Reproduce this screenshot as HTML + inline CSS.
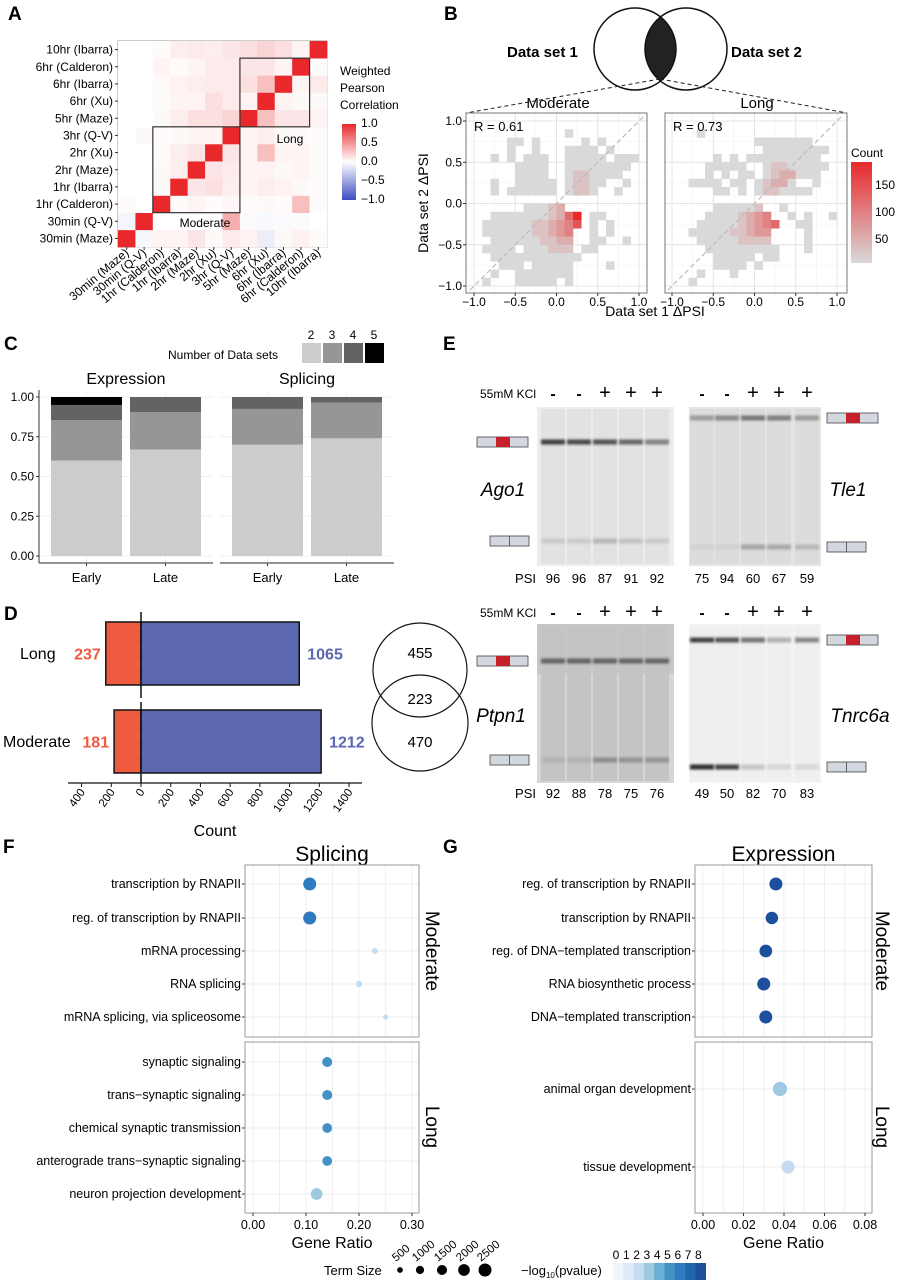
<!DOCTYPE html>
<html><head><meta charset="utf-8">
<style>
html,body{margin:0;padding:0;background:#fff;}
svg{display:block;font-family:"Liberation Sans",sans-serif;}
.pl{font-weight:bold;font-size:19px;}
.narrow{font-family:"Liberation Sans Narrow","Liberation Sans",sans-serif;}
</style></head>
<body>
<svg id="fig" width="897" height="1280" viewBox="0 0 897 1280" xmlns="http://www.w3.org/2000/svg">
<defs>
<filter id="blur" x="-20%" y="-200%" width="140%" height="500%"><feGaussianBlur stdDeviation="1.2"/></filter>
<linearGradient id="corrGrad" x1="0" y1="0" x2="0" y2="1">
<stop offset="0" stop-color="#e8282b"/><stop offset="0.5" stop-color="#ffffff"/><stop offset="1" stop-color="#3b4cc0"/></linearGradient>
<linearGradient id="countGrad" x1="0" y1="0" x2="0" y2="1">
<stop offset="0" stop-color="#e8282b"/><stop offset="1" stop-color="#d9d9d9"/></linearGradient>
<clipPath id="clipL"><circle cx="635" cy="49" r="41"/></clipPath>
</defs>
<text class="pl" x="8" y="20">A</text>
<text class="pl" x="444" y="20">B</text>
<text class="pl" x="4" y="350">C</text>
<text class="pl" x="443" y="350">E</text>
<text class="pl" x="4" y="620">D</text>
<text class="pl" x="3" y="853">F</text>
<text class="pl" x="443" y="853">G</text>

<g id="panelA"></g>
<g font-size="12">
<text x="340" y="75">Weighted</text><text x="340" y="92">Pearson</text><text x="340" y="109">Correlation</text>
<rect x="342" y="124" width="14" height="76" fill="url(#corrGrad)"/>
<text x="361" y="127">1.0</text><text x="361" y="146">0.5</text><text x="361" y="165">0.0</text><text x="361" y="184">−0.5</text><text x="361" y="203">−1.0</text>
</g>

<g>
<circle cx="686" cy="49" r="41" fill="#222" clip-path="url(#clipL)"/>
<circle cx="635" cy="49" r="41" fill="none" stroke="#111" stroke-width="1.5"/>
<circle cx="686" cy="49" r="41" fill="none" stroke="#111" stroke-width="1.5"/>
<text x="507" y="57" font-weight="bold" font-size="15">Data set 1</text>
<text x="731" y="57" font-weight="bold" font-size="15">Data set 2</text>
<line x1="660" y1="79" x2="466" y2="113" stroke="#222" stroke-dasharray="4,3"/>
<line x1="660" y1="79" x2="847" y2="113" stroke="#222" stroke-dasharray="4,3"/>
<text x="558" y="108" text-anchor="middle" font-size="15">Moderate</text>
<text x="757" y="108" text-anchor="middle" font-size="15">Long</text>
</g>
<g id="panelB"></g>
<g font-size="12">
<text x="851" y="157">Count</text>
<rect x="851" y="162" width="21" height="101" fill="url(#countGrad)"/>
<text x="875" y="189">150</text><text x="875" y="216">100</text><text x="875" y="243">50</text>
</g>
<text x="655" y="316" text-anchor="middle" font-size="14">Data set 1 ΔPSI</text>
<text transform="translate(428,203) rotate(-90)" text-anchor="middle" font-size="14">Data set 2 ΔPSI</text>

<g id="panelC"></g>
<g id="panelD"></g>
<g font-size="15">
<circle cx="420" cy="670" r="47" fill="none" stroke="#111" stroke-width="1.2"/>
<circle cx="420" cy="723" r="48" fill="none" stroke="#111" stroke-width="1.2"/>
<text x="420" y="658" text-anchor="middle">455</text>
<text x="420" y="704" text-anchor="middle">223</text>
<text x="420" y="747" text-anchor="middle">470</text>
</g>

<g id="panelE"></g>
<g id="panelF"></g>
<g id="panelG"></g>
<g id="legendFG"></g>
</svg>
<script>
// ---------- Panel A data ----------
const hmLabels = ["30min (Maze)","30min (Q-V)","1hr (Calderon)","1hr (Ibarra)","2hr (Maze)","2hr (Xu)","3hr (Q-V)","5hr (Maze)","6hr (Xu)","6hr (Ibarra)","6hr (Calderon)","10hr (Ibarra)"];
const hmRow0 = [1,-0.04,0.05,0.05,0.12,0.03,0.1,0.06,-0.1,0.03,0.07,0.02];
const hmRow1 = [-0.05,1,0,0,0,0,0.38,-0.02,-0.03,-0.02,-0.02,0];
const hmRow2 = [0.02,0,1,0.02,0.05,0.02,0.04,0.02,0.03,0.02,0.3,0.02];
const hmRow3 = [0,0,0.03,1,0.12,0.15,0.08,0.05,0.08,0.06,0.03,0.02];
const hmRow4 = [0,0,0.03,0.08,1,0.12,0.1,0.05,0.06,0.03,0.05,0.02];
const hmRow5 = [0,0,0.02,0.08,0.12,1,0.12,0.05,0.3,0.05,0.05,0.02];
const hmRow6 = [0,0.03,0.02,0.03,0.05,0.05,1,0.05,0.08,0.03,0.03,0.02];
const hmRow7 = [0,0,0.03,0.08,0.15,0.15,0.2,1,0.3,0.12,0.12,0.05];
const hmRow8 = [0,0,0.02,0.05,0.05,0.15,0.1,0.06,1,0.06,0.03,0.03];
const hmRow9 = [0,0,0.02,0.06,0.08,0.1,0.1,0.15,0.3,1,0.05,0.1];
const hmRow10 = [0,0,0.05,0.02,0.05,0.1,0.1,0.12,0.12,0.05,1,0.02];
const hmRow11 = [0,0,0.02,0.08,0.1,0.08,0.12,0.15,0.2,0.15,0.05,1];
const hmValues = [hmRow0,hmRow1,hmRow2,hmRow3,hmRow4,hmRow5,hmRow6,hmRow7,hmRow8,hmRow9,hmRow10,hmRow11];

// ---------- Panel B data (density grids, 0.1 bins, top row y=1.0; digits = count level) ----------
const gridModerate = [
"....................",
"...........1........",
"....11.1.....1.1....",
"....1..1...1111.1...",
"..1.1.111..11111.111",
".....1111..11111111.",
".....1111..1221111..",
"..1..11111.12211..1.",
"..1.111111.1221..1..",
"....................",
"......11123.........",
"..11111112369.11....",
".111111223457.1.1...",
".11111122345..1.1...",
"..1111112233..11..1.",
".1111.111222.11.....",
"..11111111111.......",
"...111.11111....1...",
"..1..1111111........",
".1...11111.1........"];
const gridLong = [
"....................",
"...1................",
"..........1111111...",
"...........11111111.",
".....1.1.111111111..",
"....11111..12211111.",
"....1.1.11.1233111..",
"..1111.11.12331..1..",
".....11.1.1221111...",
"....................",
".....111112..1......",
"....11112345..1.1..1",
"...1111123456..11...",
"..1111122344....1...",
"...111112222....1...",
"....111111111...1...",
".....11111.11.......",
".....1111.1.........",
"...1...1............",
"..1................."];
const bTicks = [-1,-0.5,0,0.5,1];
const bTickLabels = ["−1.0","−0.5","0.0","0.5","1.0"];
const bR = ["R = 0.61","R = 0.73"];

// ---------- Panel C data ----------
const cFacets = ["Expression","Splicing"];
const cCats = ["Early","Late"];
const cExpr2 = [0.60,0.67], cExpr3 = [0.255,0.235], cExpr4 = [0.095,0.095], cExpr5 = [0.05,0];
const cSpl2 = [0.70,0.74], cSpl3 = [0.225,0.225], cSpl4 = [0.075,0.035], cSpl5 = [0,0];
const cTicks = [0,0.25,0.5,0.75,1];
const cTickLabels = ["0.00","0.25","0.50","0.75","1.00"];

// ---------- Panel D data ----------
const dCats = ["Long","Moderate"];
const dUp = [237,181];
const dDown = [1065,1212];
const dTicks = [-400,-200,0,200,400,600,800,1000,1200,1400];
const dTickLabels = ["400","200","0","200","400","600","800","1000","1200","1400"];

// ---------- Panel E data ----------
const eGenes = ["Ago1","Tle1","Ptpn1","Tnrc6a"];
const eKCl = ["-","-","+","+","+"];
const ePsiAgo1 = [96,96,87,91,92];
const ePsiTle1 = [75,94,60,67,59];
const ePsiPtpn1 = [92,88,78,75,76];
const ePsiTnrc6a = [49,50,82,70,83];
const eIncAgo1 = [0.85,0.8,0.75,0.65,0.5];
const eSkipAgo1 = [0.12,0.12,0.22,0.16,0.12];
const eIncTle1 = [0.35,0.45,0.55,0.5,0.35];
const eSkipTle1 = [0.05,0.05,0.3,0.28,0.2];
const eIncPtpn1 = [0.6,0.6,0.6,0.6,0.6];
const eSkipPtpn1 = [0.1,0.12,0.35,0.3,0.3];
const eIncTnrc6a = [0.85,0.75,0.6,0.3,0.5];
const eSkipTnrc6a = [0.95,0.85,0.2,0.12,0.12];

// ---------- Panel F/G data ----------
const fTermsMod = ["transcription by RNAPII","reg. of transcription by RNAPII","mRNA processing","RNA splicing","mRNA splicing, via spliceosome"];
const fRatioMod = [0.107,0.107,0.23,0.2,0.25];
const fSizeMod = [2500,2500,500,600,400];
const fPvalMod = [5.6,5.6,2.2,2.1,2.0];
const fTermsLong = ["synaptic signaling","trans−synaptic signaling","chemical synaptic transmission","anterograde trans−synaptic signaling","neuron projection development"];
const fRatioLong = [0.14,0.14,0.14,0.14,0.12];
const fSizeLong = [1500,1500,1400,1400,2000];
const fPvalLong = [5.2,4.7,4.6,4.6,3.0];
const gTermsMod = ["reg. of transcription by RNAPII","transcription by RNAPII","reg. of DNA−templated transcription","RNA biosynthetic process","DNA−templated transcription"];
const gRatioMod = [0.036,0.034,0.031,0.030,0.031];
const gSizeMod = [2500,2300,2400,2500,2500];
const gPvalMod = [7.6,7.6,8,8,8];
const gTermsLong = ["animal organ development","tissue development"];
const gRatioLong = [0.038,0.042];
const gSizeLong = [3000,2600];
const gPvalLong = [2.6,1.9];
const fTicks = [0,0.1,0.2,0.3];
const fTickLabels = ["0.00","0.10","0.20","0.30"];
const gTicks = [0,0.02,0.04,0.06,0.08];
const gTickLabels = ["0.00","0.02","0.04","0.06","0.08"];
const sizeLegend = [500,1000,1500,2000,2500];
const pvalLegend = [0,1,2,3,4,5,6,7,8];

// ---------- helpers ----------
const NS = "http://www.w3.org/2000/svg";
function mk(tag, parent, attrs, text){
  const e = document.createElementNS(NS, tag);
  for (const k in attrs) e.setAttribute(k, attrs[k]);
  if (text !== undefined) e.textContent = text;
  parent.appendChild(e);
  return e;
}
function lerp(a,b,t){return Math.round(a+(b-a)*t);}
function corrColor(v){
  if (v>=0) return `rgb(${lerp(255,232,v)},${lerp(255,40,v)},${lerp(255,43,v)})`;
  const t=-v; return `rgb(${lerp(255,59,t)},${lerp(255,76,t)},${lerp(255,192,t)})`;
}
const blues = ["#eef5fc","#deebf7","#c6dbef","#9ecae1","#6baed6","#4292c6","#2f7bbf","#2166ac","#1c4f9c"];
function blueColor(p){ return blues[Math.max(0,Math.min(8,Math.round(p)))]; }
function sizeR(s){ return 0.13*Math.sqrt(s); }

// ---------- Panel A ----------
(function(){
  const g = document.getElementById("panelA");
  const x0=118, y1=247, cw=(327-118)/12, ch=(247-41)/12;
  const hx = i => x0 + i*cw;
  const hy = r => y1 - (r+1)*ch;
  mk("rect", g, {x:x0,y:41,width:209,height:206,fill:"#fff",stroke:"#999","stroke-width":1});
  hmValues.forEach((row,r)=>{
    row.forEach((v,c)=>{
      const cell = mk("rect", g, {x:hx(c),y:hy(r),width:cw+0.3,height:ch+0.3,fill:corrColor(v)});
      
      
    });
  });
  hmLabels.forEach((l,i)=>{
    const t = mk("text", g, {x:x0-5,y:hy(i)+ch/2+4,"text-anchor":"end","font-size":12}, l);
    
    
    mk("line", g, {x1:x0-3,x2:x0,y1:hy(i)+ch/2,y2:hy(i)+ch/2,stroke:"#333"});
    const cx = hx(i)+cw/2;
    mk("line", g, {x1:cx,x2:cx,y1:247,y2:250,stroke:"#333"});
    const tx = mk("text", g, {transform:`translate(${cx+3},${254}) rotate(-40)`,"text-anchor":"end","font-size":12}, l);
    
    
  });
  const mb = mk("rect", g, {x:hx(2),y:hy(6),width:5*cw,height:5*ch,fill:"none",stroke:"#333","stroke-width":1.2});
  
  
  const lb = mk("rect", g, {x:hx(7),y:hy(10),width:4*cw,height:4*ch,fill:"none",stroke:"#333","stroke-width":1.2});
  
  
  mk("text", g, {x:290,y:143,"text-anchor":"middle","font-size":12}, "Long");
  mk("text", g, {x:205,y:227,"text-anchor":"middle","font-size":12}, "Moderate");
})();

// ---------- Panel B ----------
(function(){
  const g = document.getElementById("panelB");
  const plots = [{x0:474,l:466,r:647,grid:gridModerate},{x0:672,l:665,r:847,grid:gridLong}];
  const k = 82.5;
  const by = v => 203.5 - v*k;
  plots.forEach((p,pi)=>{
    const bx = v => p.x0 + (v+1)*k;
    const pg = mk("g", g, {});
    
    
    mk("rect", pg, {x:p.l,y:113,width:p.r-p.l,height:180,fill:"#fff"});
    for (let v=-1; v<=1.001; v+=0.25){
      const major = Math.abs(v*2-Math.round(v*2))<0.01;
      mk("line", pg, {x1:bx(v),x2:bx(v),y1:113,y2:293,stroke:major?"#e4e4e4":"#f0f0f0","stroke-width":major?1:0.6});
      mk("line", pg, {x1:p.l,x2:p.r,y1:by(v),y2:by(v),stroke:major?"#e4e4e4":"#f0f0f0","stroke-width":major?1:0.6});
    }
    p.grid.forEach((row,r)=>{
      for (let c=0;c<row.length;c++){
        const ch = row[c];
        if (ch==='.') continue;
        const lv = parseInt(ch,10)-1; const t = lv/8;
        const col = `rgb(${lerp(217,232,t)},${lerp(217,40,t)},${lerp(217,43,t)})`;
        const xv = -1 + 0.1*c, yv = 1 - 0.1*r;
        const cell = mk("rect", pg, {x:bx(xv),y:by(yv),width:k*0.1+0.3,height:k*0.1+0.3,fill:col});
        
        
      }
    });
    mk("line", pg, {x1:bx(-1.05),y1:by(-1.05),x2:bx(1.05),y2:by(1.05),stroke:"#bbb","stroke-dasharray":"5,3","stroke-width":1.2});
    mk("rect", pg, {x:p.l,y:113,width:p.r-p.l,height:180,fill:"none",stroke:"#777","stroke-width":1});
    mk("text", pg, {x:p.l+8,y:131,"font-size":13}, bR[pi]);
    bTicks.forEach((v,i)=>{
      mk("line", pg, {x1:bx(v),x2:bx(v),y1:293,y2:296,stroke:"#333"});
      const tl = mk("text", pg, {x:bx(v),y:306,"text-anchor":"middle","font-size":12}, bTickLabels[i]);
      
      
      if (pi===0){
        mk("line", pg, {x1:p.l-3,x2:p.l,y1:by(v),y2:by(v),stroke:"#333"});
        const yl = mk("text", pg, {x:p.l-4,y:by(v)+4,"text-anchor":"end","font-size":12}, bTickLabels[i]);
        
        
      }
    });
  });
})();

// ---------- Panel C ----------
(function(){
  const g = document.getElementById("panelC");
  const cy = v => 556 - v*159;
  const facets = [{l:39,r:213,bars:[51,130],s:[cExpr2,cExpr3,cExpr4,cExpr5]},{l:220,r:394,bars:[232,311],s:[cSpl2,cSpl3,cSpl4,cSpl5]}];
  const cols = ["#cccccc","#969696","#636363","#000000"];
  const bw = 71;
  facets.forEach((f,fi)=>{
    cTicks.forEach(v=>mk("line", g, {x1:f.l,x2:f.r,y1:cy(v),y2:cy(v),stroke:"#f0f0f0"}));
    f.bars.forEach(b=>mk("line", g, {x1:b+bw/2,x2:b+bw/2,y1:390,y2:563,stroke:"#f0f0f0"}));
    mk("text", g, {x:(f.l+f.r)/2,y:384,"text-anchor":"middle","font-size":16}, cFacets[fi]);
    cCats.forEach((cat,ci)=>{
      let acc = 0;
      f.s.forEach((ser,si)=>{
        const v = ser[ci];
        if (v<=0) return;
        const rc = mk("rect", g, {x:f.bars[ci],y:cy(acc+v),width:bw,height:cy(acc)-cy(acc+v),fill:cols[si]});
        
        
        acc += v;
      });
      const x = f.bars[ci]+bw/2;
      mk("line", g, {x1:x,x2:x,y1:563,y2:566,stroke:"#333"});
      mk("text", g, {x:x,y:582,"text-anchor":"middle","font-size":13}, cat);
    });
    mk("line", g, {x1:f.l,x2:f.r,y1:563,y2:563,stroke:"#555","stroke-width":1.2});
  });
  mk("line", g, {x1:39,x2:39,y1:390,y2:563,stroke:"#555","stroke-width":1.2});
  cTicks.forEach((v,i)=>{
    mk("line", g, {x1:36,x2:39,y1:cy(v),y2:cy(v),stroke:"#333"});
    const t = mk("text", g, {x:34,y:cy(v)+4,"text-anchor":"end","font-size":12}, cTickLabels[i]);
    
    
  });
  mk("text", g, {x:168,y:359,"font-size":12}, "Number of Data sets");
  ["2","3","4","5"].forEach((l,i)=>{
    const sw = mk("rect", g, {x:302+i*21,y:343,width:19,height:20,fill:cols[i]});
    
    
    mk("text", g, {x:311+i*21,y:339,"text-anchor":"middle","font-size":12}, l);
  });
})();

// ---------- Panel D ----------
(function(){
  const g = document.getElementById("panelD");
  const dx = v => 141 + v*0.1486;
  const rows = [622,710]; const h = 63;
  dCats.forEach((c,i)=>{
    const up = mk("rect", g, {x:dx(-dUp[i]),y:rows[i],width:dx(0)-dx(-dUp[i]),height:h,fill:"#ef5b3e",stroke:"#111","stroke-width":1.5});
    
    
    const dn = mk("rect", g, {x:dx(0),y:rows[i],width:dx(dDown[i])-dx(0),height:h,fill:"#5b67b0",stroke:"#111","stroke-width":1.5});
    
    
    const ym = rows[i]+h/2+6;
    mk("text", g, {x:dx(-dUp[i])-5,y:ym,"text-anchor":"end","font-size":16,"font-weight":"bold",fill:"#ef5b3e"}, String(dUp[i]));
    mk("text", g, {x:dx(dDown[i])+8,y:ym,"font-size":16,"font-weight":"bold",fill:"#5b67b0"}, String(dDown[i]));
  });
  mk("text", g, {x:20,y:659,"font-size":16}, "Long");
  mk("text", g, {x:3,y:747,"font-size":16}, "Moderate");
  mk("line", g, {x1:141,x2:141,y1:612,y2:783,stroke:"#111","stroke-width":1.5,"stroke-dasharray":"14,4"});
  mk("line", g, {x1:68,x2:362,y1:783,y2:783,stroke:"#111","stroke-width":1.2});
  dTicks.forEach((v,i)=>{
    mk("line", g, {x1:dx(v),x2:dx(v),y1:783,y2:787,stroke:"#111"});
    const t = mk("text", g, {transform:`translate(${dx(v)+4},${792}) rotate(-55)`,"text-anchor":"end","font-size":11.5}, dTickLabels[i]);
    
    
  });
  mk("text", g, {x:215,y:836,"text-anchor":"middle","font-size":16}, "Count");
})();

// ---------- Panel E ----------
(function(){
  const g = document.getElementById("panelE");
  const gels = [
    {x:537,y:407,w:137,h:159,bg:"#ededed",lane:"#e2e2e2",lanes:[553,579,605,631,657],inc:eIncAgo1,skip:eSkipAgo1,incY:442,skipY:541,psi:ePsiAgo1,kY:393,pY:583,name:"Ago1",gx:503,gy:496,side:"L"},
    {x:689,y:407,w:132,h:159,bg:"#e4e4e4",lane:"#dcdcdc",lanes:[702,727,753,779,807],inc:eIncTle1,skip:eSkipTle1,incY:418,skipY:547,psi:ePsiTle1,kY:393,pY:583,name:"Tle1",gx:848,gy:496,side:"R"},
    {x:537,y:624,w:137,h:159,bg:"#d6d6d6",lane:"#c4c4c4",lanes:[553,579,605,631,657],inc:eIncPtpn1,skip:eSkipPtpn1,incY:661,skipY:760,psi:ePsiPtpn1,kY:612,pY:798,name:"Ptpn1",gx:501,gy:722,side:"L"},
    {x:689,y:624,w:132,h:159,bg:"#f3f3f3",lane:"#efefef",lanes:[702,727,753,779,807],inc:eIncTnrc6a,skip:eSkipTnrc6a,incY:640,skipY:767,psi:ePsiTnrc6a,kY:612,pY:798,name:"Tnrc6a",gx:860,gy:722,side:"R"}
  ];
  gels.forEach((G,gi)=>{
    const gg = mk("g", g, {});
    
    
    mk("rect", gg, {x:G.x,y:G.y,width:G.w,height:G.h,fill:G.bg});
    if (gi===2) mk("rect", gg, {x:G.x,y:G.y,width:G.w,height:50,fill:"#bdbdbd",opacity:0.6});
    G.lanes.forEach((lx,li)=>{
      mk("rect", gg, {x:lx-12,y:G.y+2,width:24,height:G.h-4,fill:G.lane});
      const ib = mk("rect", gg, {x:lx-12,y:G.incY-2.5,width:24,height:5,fill:"#222",opacity:G.inc[li],filter:"url(#blur)"});
      
      
      const sb = mk("rect", gg, {x:lx-12,y:G.skipY-2.5,width:24,height:5,fill:"#222",opacity:G.skip[li],filter:"url(#blur)"});
      
      
      mk("text", gg, {x:lx,y:G.kY+6,"text-anchor":"middle","font-size":eKCl[li]==="+"?20:16,"font-weight":eKCl[li]==="+"?"normal":"bold"}, eKCl[li]==="-"?"-":"+");
      const ps = mk("text", gg, {x:lx,y:G.pY,"text-anchor":"middle","font-size":13}, String(G.psi[li]));
      
      
    });
    mk("text", gg, {x:G.gx,y:G.gy,"text-anchor":"middle","font-size":19,"font-style":"italic"}, G.name);
    const bigX = G.side==="L"?477:827, smallX = G.side==="L"?490:827;
    const bigY = G.incY-5, smallY = G.skipY-5;
    mk("rect", gg, {x:bigX,y:bigY,width:51,height:10,fill:"#d3d8e0",stroke:"#444","stroke-width":0.8});
    mk("rect", gg, {x:bigX+19,y:bigY,width:14,height:10,fill:"#c8202a"});
    mk("rect", gg, {x:smallX,y:smallY,width:39,height:10,fill:"#d3d8e0",stroke:"#444","stroke-width":0.8});
    mk("line", gg, {x1:smallX+19.5,x2:smallX+19.5,y1:smallY,y2:smallY+10,stroke:"#444","stroke-width":0.8});
    if (G.side==="L"){
      mk("text", gg, {x:536,y:G.kY+5,"text-anchor":"end","font-size":12}, "55mM KCl");
      mk("text", gg, {x:536,y:G.pY,"text-anchor":"end","font-size":13}, "PSI");
    }
  });
})();

// ---------- Panels F & G ----------
function dotPanel(gid, x0, x1, scaleMax, ticks, tickLabels, minorStep, title, stripX, mod, lng, longRowsY){
  const g = document.getElementById(gid);
  const px = v => x0 + (v/scaleMax)*(x1-x0);
  const L = x0 - 8, R = x1 + 7;
  const boxes = [{y:865,h:172,rows:[884,918,951,984,1017],d:mod,name:"Moderate",sy:951},{y:1042,h:171,rows:longRowsY,d:lng,name:"Long",sy:1127}];
  mk("text", g, {x:(L+R)/2,y:861,"text-anchor":"middle","font-size":21,class:"narrow"}, title);
  boxes.forEach((b,bi)=>{
    mk("rect", g, {x:L,y:b.y,width:R-L,height:b.h,fill:"#fff"});
    for (let v=0; v<=scaleMax*1.06; v+=minorStep){
      mk("line", g, {x1:px(v),x2:px(v),y1:b.y,y2:b.y+b.h,stroke:"#ececec","stroke-width":0.8});
    }
    b.d.terms.forEach((t,i)=>{
      const y = b.rows[i];
      mk("line", g, {x1:L,x2:R,y1:y,y2:y,stroke:"#ececec"});
      mk("line", g, {x1:L-3,x2:L,y1:y,y2:y,stroke:"#333"});
      const lab = mk("text", g, {x:L-4,y:y+4,"text-anchor":"end","font-size":12.5,class:"narrow"}, t);
      
      
    });
    b.d.terms.forEach((t,i)=>{
      const dot = mk("circle", g, {cx:px(b.d.ratio[i]),cy:b.rows[i],r:sizeR(b.d.size[i]),fill:blueColor(b.d.pval[i])});
      
      
    });
    mk("rect", g, {x:L,y:b.y,width:R-L,height:b.h,fill:"none",stroke:"#999"});
    mk("text", g, {transform:`translate(${stripX},${b.sy}) rotate(90)`,"text-anchor":"middle","font-size":19}, b.name);
  });
  ticks.forEach((v,i)=>{
    mk("line", g, {x1:px(v),x2:px(v),y1:1213,y2:1216,stroke:"#333"});
    const t = mk("text", g, {x:px(v),y:1229,"text-anchor":"middle","font-size":12.5,class:"narrow"}, tickLabels[i]);
    
    
  });
  mk("text", g, {x:(L+R)/2,y:1248,"text-anchor":"middle","font-size":16,class:"narrow"}, "Gene Ratio");
}
dotPanel("panelF", 253, 412, 0.3, fTicks, fTickLabels, 0.05, "Splicing", 426,
  {terms:fTermsMod,ratio:fRatioMod,size:fSizeMod,pval:fPvalMod},
  {terms:fTermsLong,ratio:fRatioLong,size:fSizeLong,pval:fPvalLong}, [1062,1095,1128,1161,1194]);
dotPanel("panelG", 703, 865, 0.08, gTicks, gTickLabels, 0.01, "Expression", 876,
  {terms:gTermsMod,ratio:gRatioMod,size:gSizeMod,pval:gPvalMod},
  {terms:gTermsLong,ratio:gRatioLong,size:gSizeLong,pval:gPvalLong}, [1089,1167]);

// legend
(function(){
  const g = document.getElementById("legendFG");
  mk("text", g, {x:324,y:1275,"font-size":13,class:"narrow"}, "Term Size");
  const lx = [400,420,442,464,485];
  sizeLegend.forEach((s,i)=>{
    const c = mk("circle", g, {cx:lx[i],cy:1270,r:sizeR(s),fill:"#000"});
    
    
    mk("text", g, {transform:`translate(${lx[i]-4},${1262}) rotate(-40)`,"font-size":11.5,class:"narrow"}, String(s));
  });
  const tx = mk("text", g, {x:521,y:1275,"font-size":13,class:"narrow"}, "−log");
  mk("tspan", tx, {"font-size":8,dy:3}, "10");
  mk("tspan", tx, {dy:-3}, "(pvalue)");
  pvalLegend.forEach((p,i)=>{
    const r = mk("rect", g, {x:613+i*10.3,y:1263,width:10.6,height:17,fill:blueColor(p)});
    
    
    mk("text", g, {x:616+i*10.3,y:1259,"text-anchor":"middle","font-size":12,class:"narrow"}, String(p));
  });
})();
</script>
</body></html>
